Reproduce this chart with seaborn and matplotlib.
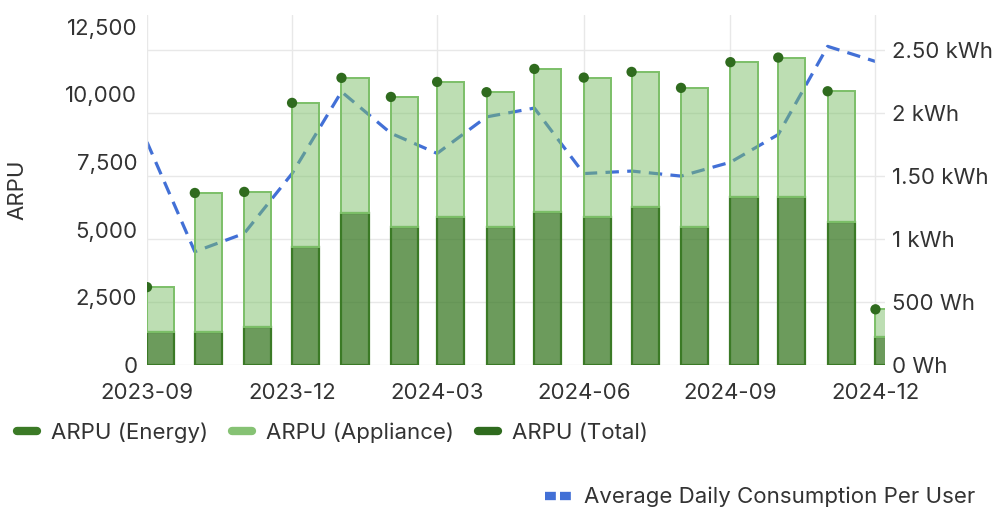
import pandas as pd
import numpy as np
import matplotlib
matplotlib.use('Agg')
import matplotlib.pyplot as plt
import matplotlib.dates as mdates
from matplotlib.lines import Line2D
from matplotlib.ticker import FuncFormatter
import seaborn as sns

# monthly values
months = ['2023-09', '2023-10', '2023-11', '2023-12', '2024-01', '2024-02', '2024-03', '2024-04',
          '2024-05', '2024-06', '2024-07', '2024-08', '2024-09', '2024-10', '2024-11', '2024-12']
arpu_energy = [1220, 1220, 1400, 4360, 5620, 5100, 5470, 5090,
               5645, 5460, 5845, 5090, 6200, 6200, 5275, 1050]
arpu_appliance = [1660, 5140, 5000, 5330, 4995, 4810, 4995, 4995,
                  5300, 5165, 4990, 5155, 4995, 5165, 4845, 1010]
consumption_kwh = [1.77, 0.90, 1.045, 1.52, 2.17, 1.84, 1.68, 1.97,
                   2.04, 1.52, 1.54, 1.50, 1.61, 1.83, 2.53, 2.41]

tick_months = ['2023-09', '2023-12', '2024-03', '2024-06', '2024-09', '2024-12']
left_ticks = [0, 2500, 5000, 7500, 10000, 12500]
right_ticks = [0, 0.5, 1, 1.5, 2, 2.5]
right_labels = ['0 Wh', '500 Wh', '1 kWh', '1.50 kWh', '2 kWh', '2.50 kWh']

df = pd.DataFrame({
    'month': pd.to_datetime(months),
    'energy': arpu_energy,
    'appliance': arpu_appliance,
    'consumption': consumption_kwh,
})
df['total'] = df['energy'] + df['appliance']

energy_col = '#3b7a26'
appliance_col = '#7cbf68'
dot_col = '#2f6b1e'
line_col = '#4270d6'
text_col = '#333333'
grid_col = '#e8e8e8'
fs = 16

sns.set_theme(style='white')
plt.rcParams['font.family'] = ['Inter', 'DejaVu Sans']
plt.rcParams['font.size'] = fs

fig = plt.figure(figsize=(9.96, 5.12), dpi=100)
ax = fig.add_axes([0.1476, 0.287, 0.741, 0.684])
ax2 = ax.twinx()
# bars sit in front of the consumption line
ax.set_zorder(ax2.get_zorder() + 1)
ax.patch.set_visible(False)

# consumption line (right axis)
sns.lineplot(data=df, x='month', y='consumption', ax=ax2, color=line_col, linewidth=2.3)
ax2.lines[0].set_dashes([4.2, 2.6])

# stacked bars
bar_w = 17
ax.bar(df['month'], df['energy'], width=bar_w, align='edge',
       color=matplotlib.colors.to_rgba(energy_col, 0.75), edgecolor=energy_col, linewidth=1.6, zorder=2)
ax.bar(df['month'], df['appliance'], bottom=df['energy'], width=bar_w, align='edge',
       color=matplotlib.colors.to_rgba(appliance_col, 0.5), edgecolor=appliance_col, linewidth=1.4, zorder=2)
sns.scatterplot(data=df, x='month', y='total', ax=ax, color=dot_col, s=55,
                edgecolor='none', zorder=3, legend=False)

# axes limits and ticks
ax.set_xlim(pd.Timestamp('2023-09-01'), pd.Timestamp('2024-12-07'))
ax.set_ylim(0, 12944)
ax2.set_ylim(0, 2.78)
ax.set_xticks(pd.to_datetime(tick_months))
ax.xaxis.set_major_formatter(mdates.DateFormatter('%Y-%m'))
ax.set_yticks(left_ticks)
ax.yaxis.set_major_formatter(FuncFormatter(lambda v, p: f'{int(v):,}'))
ax2.set_yticks(right_ticks)
ax2.set_yticklabels(right_labels)

ax.tick_params(axis='x', length=0, pad=13, colors=text_col, labelsize=fs)
ax.tick_params(axis='y', length=0, pad=7, colors=text_col, labelsize=fs)
ax2.tick_params(axis='y', length=0, pad=5, colors=text_col, labelsize=fs)

ax.set_xlabel('')
ax.set_ylabel('ARPU', color=text_col, fontsize=fs)
ax.yaxis.set_label_coords(-0.162, 0.5)
ax2.set_ylabel('')

ax.grid(axis='x', color=grid_col, linewidth=1)
ax.grid(axis='y', visible=False)
ax.set_axisbelow(True)
ax2.grid(axis='y', color=grid_col, linewidth=1)
for a in (ax, ax2):
    for s in a.spines.values():
        s.set_visible(False)

# legends
bar_handles = [
    Line2D([0], [0], color=energy_col, lw=6, solid_capstyle='round'),
    Line2D([0], [0], color='#86c274', lw=6, solid_capstyle='round'),
    Line2D([0], [0], color=dot_col, lw=6, solid_capstyle='round'),
]
fig.legend(bar_handles, ['ARPU (Energy)', 'ARPU (Appliance)', 'ARPU (Total)'],
           loc='center left', bbox_to_anchor=(0.008, 0.155), ncol=3, frameon=False,
           handlelength=0.9, handletextpad=0.65, columnspacing=1.05, fontsize=fs,
           labelcolor=text_col, borderaxespad=0)
line_handle = Line2D([0], [0], color=line_col, lw=6, dashes=[1.3, 0.5])
fig.legend([line_handle], ['Average Daily Consumption Per User'],
           loc='center right', bbox_to_anchor=(0.988, 0.029), frameon=False,
           handlelength=1.2, handletextpad=0.55, fontsize=fs, labelcolor=text_col,
           borderaxespad=0)

fig.savefig('out.png', dpi=100)
